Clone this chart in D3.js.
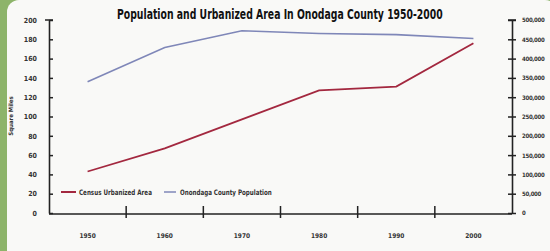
<!DOCTYPE html>
<html>
<head>
<meta charset="utf-8">
<script src="https://cdn.jsdelivr.net/npm/d3@7"></script>
<style>
body { margin: 0; background: #8db46a; }
svg { display: block; }
text { font-family: "Liberation Sans Narrow", "DejaVu Sans Condensed", sans-serif; font-weight: bold; }
</style>
</head>
<body>
<div class="chart"></div>
<script>
// values
var years = ["1950", "1960", "1970", "1980", "1990", "2000"];
var urbanArea = [43, 67, 97, 127, 131, 176];               // square miles
var population = [340000, 429000, 472000, 465000, 462000, 452000];
var leftTicks = [0, 20, 40, 60, 80, 100, 120, 140, 160, 180, 200];
var rightTicks = [0, 50000, 100000, 150000, 200000, 250000, 300000, 350000, 400000, 450000, 500000];

var W = 550, H = 251;
var x0 = 49, x1 = 512, yTop = 20, yBot = 213;

var svg = d3.select(".chart").append("svg").attr("width", W).attr("height", H);
svg.append("rect").attr("width", W).attr("height", H).attr("fill", "#8db46a");
svg.append("rect").attr("x", 7).attr("y", 0).attr("width", W).attr("height", H + 20).attr("rx", 12).attr("fill", "#f9f9f7");

// squeeze a text to a given width (condensed look) with a real transform
function squeeze(sel, px, py, width) {
    var w = sel.node().getComputedTextLength();
    sel.attr("x", 0).attr("y", 0).attr("transform", "translate(" + px + "," + py + ") scale(" + (width / w) + ",1)");
}

var x = d3.scaleBand().domain(years).range([x0, x1]);
var yL = d3.scaleLinear().domain([0, 200]).range([yBot, yTop]);
var yR = d3.scaleLinear().domain([0, 500000]).range([yBot, yTop]);

var fmt = d3.format(",");

// left axis
var gl = svg.append("g").attr("transform", "translate(" + x0 + ",0)");
gl.call(d3.axisLeft(yL).tickValues(leftTicks).tickSize(4).tickSizeOuter(0).tickPadding(8));
gl.selectAll(".tick line").attr("x2", 4);
// right axis
var gr = svg.append("g").attr("transform", "translate(" + x1 + ",0)");
gr.call(d3.axisRight(yR).tickValues(rightTicks).tickFormat(fmt).tickSize(4).tickSizeOuter(0).tickPadding(6));
gr.selectAll(".tick line").attr("x1", -4);
// bottom axis, ticks on band edges
var gb = svg.append("g").attr("transform", "translate(0," + (yBot + 1) + ")");
gb.append("line").attr("x1", x0).attr("x2", x1).attr("stroke", "#222").attr("stroke-width", 1.6);
years.slice(1).forEach(function(d) {
    gb.append("line").attr("x1", x(d)).attr("x2", x(d)).attr("y1", -8).attr("y2", 4).attr("stroke", "#222").attr("stroke-width", 1.5);
});
gb.selectAll("text.year").data(years).enter().append("text").attr("class", "year")
    .attr("x", function(d) { return x(d) + x.bandwidth() / 2; }).attr("y", 24)
    .attr("text-anchor", "middle").attr("font-size", 6.5).attr("fill", "#333").text(function(d) { return d; });

[gl, gr].forEach(function(g) {
    g.select(".domain").attr("stroke", "#222").attr("stroke-width", 1.6);
    g.selectAll(".tick line").attr("stroke", "#222").attr("stroke-width", 1.5);
    g.selectAll(".tick text").attr("font-size", 7).attr("fill", "#333");
    g.append("line").attr("x1", -4).attr("x2", 4).attr("y1", yTop).attr("y2", yTop).attr("stroke", "#222").attr("stroke-width", 1.5);
});
gr.selectAll(".tick text").attr("font-size", 6).attr("letter-spacing", -0.3);

svg.append("text").attr("transform", "translate(13,116) rotate(-90)").attr("text-anchor", "middle")
    .attr("font-size", 6).attr("fill", "#333").text("Square Miles");

var title = svg.append("text").attr("font-size", 13.5).attr("fill", "#111")
    .text("Population and Urbanized Area In Onodaga County 1950-2000");
squeeze(title, 117, 19, 326);

var cx = function(d, i) { return x(years[i]) + x.bandwidth() / 2; };
var lineL = d3.line().x(function(d, i) { return cx(d, i); }).y(function(d) { return yL(d); });
var lineR = d3.line().x(function(d, i) { return cx(d, i); }).y(function(d) { return yR(d); });

svg.append("path").attr("d", lineR(population)).attr("fill", "none").attr("stroke", "#7f87b8").attr("stroke-width", 1.6);
svg.append("path").attr("d", lineL(urbanArea)).attr("fill", "none").attr("stroke", "#a3283f").attr("stroke-width", 1.8);

// legend
var lg = svg.append("g").attr("transform", "translate(0,192)");
lg.append("line").attr("x1", 61).attr("x2", 76).attr("stroke", "#a3283f").attr("stroke-width", 2);
squeeze(lg.append("text").attr("font-size", 7.5).attr("fill", "#333").text("Census Urbanized Area"), 79, 2.5, 73);
lg.append("line").attr("x1", 164).attr("x2", 176).attr("stroke", "#7f87b8").attr("stroke-width", 1.5);
squeeze(lg.append("text").attr("font-size", 7.5).attr("fill", "#333").text("Onondaga County Population"), 180, 2.5, 92);
</script>
</body>
</html>
